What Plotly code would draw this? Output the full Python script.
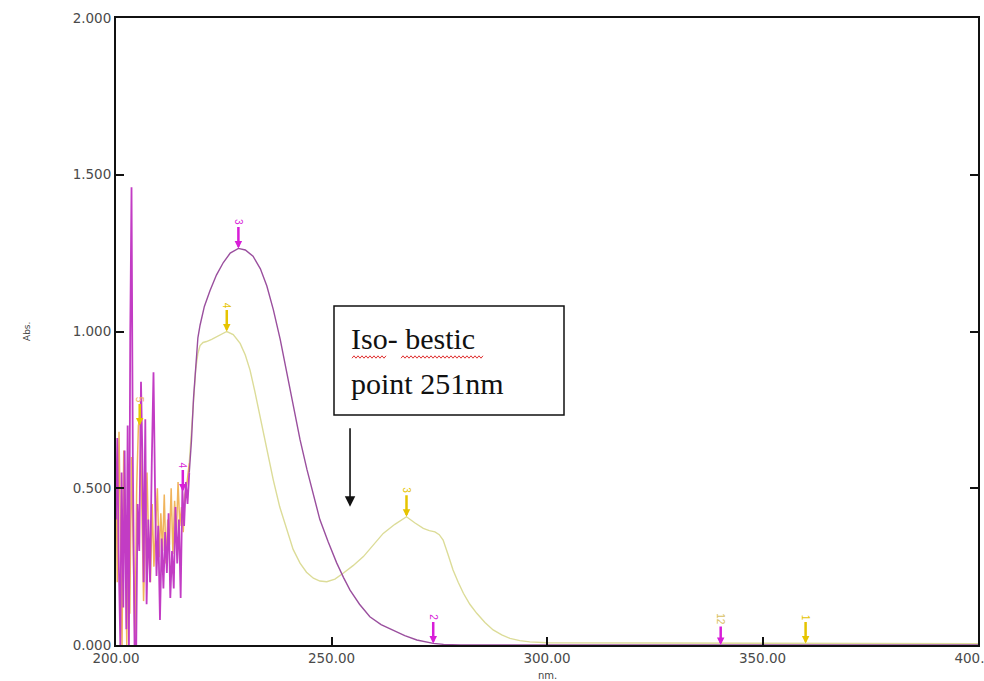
import plotly.graph_objects as go

# ---------------- data ----------------
purple_noise_nm = [200.0, 200.3, 200.6, 201.0, 201.3, 201.7, 202.0, 202.4, 202.7, 203.0, 203.3, 203.6,
                   203.9, 204.3, 204.7, 205.0, 205.4, 205.8, 206.1, 206.4, 206.8, 207.1, 207.5, 207.9,
                   208.3, 208.7, 209.1, 209.4, 209.8, 210.2, 210.6, 211.0, 211.4, 211.8, 212.2, 212.6,
                   213.0, 213.4, 213.8, 214.2, 214.6, 215.0, 215.4, 215.8, 216.2, 216.6, 217.0]
purple_noise_abs = [0.40, 0.66, 0.30, 0.00, 0.55, 0.12, 0.62, 0.05, 0.70, 0.00, 0.98, 1.46,
                    0.60, 0.00, 0.00, 0.45, 0.30, 0.84, 0.62, 0.20, 0.72, 0.13, 0.40, 0.20,
                    0.58, 0.87, 0.45, 0.22, 0.38, 0.08, 0.34, 0.18, 0.36, 0.23, 0.42, 0.15,
                    0.30, 0.18, 0.44, 0.26, 0.40, 0.15, 0.50, 0.38, 0.52, 0.45, 0.55]

yellow_noise_nm = [200.0, 200.3, 200.7, 201.0, 201.4, 201.8, 202.1, 202.5, 202.9, 203.2, 203.6, 204.0,
                   204.4, 204.8, 205.2, 205.6, 206.0, 206.4, 206.8, 207.2, 207.6, 208.0, 208.4, 208.8,
                   209.2, 209.6, 210.0, 210.4, 210.8, 211.2, 211.6, 212.0, 212.4, 212.8, 213.2, 213.6,
                   214.0, 214.4, 214.8, 215.2, 215.6, 216.0, 216.5, 217.0]
yellow_noise_abs = [0.55, 0.20, 0.68, 0.30, 0.00, 0.62, 0.42, 0.00, 0.55, 0.10, 0.60, 0.30,
                    0.00, 0.50, 0.70, 0.73, 0.40, 0.14, 0.35, 0.55, 0.30, 0.20, 0.45, 0.25,
                    0.38, 0.50, 0.28, 0.42, 0.30, 0.48, 0.26, 0.40, 0.32, 0.50, 0.29, 0.46,
                    0.35, 0.52, 0.38, 0.44, 0.36, 0.48, 0.52, 0.58]

purple_nm = [217.0, 217.5, 218.0, 218.5, 219.0, 219.5, 220.5, 221.8, 223.3, 224.9, 226.5, 228.4,
             230.0, 231.8, 233.5, 235.0, 236.5, 238.1, 239.6, 241.1, 242.7, 244.3, 245.8, 247.3,
             249.2, 251.2, 252.8, 254.3, 256.5, 258.9, 261.5, 264.3, 267.0, 269.8, 271.8, 273.6,
             276.0, 280.0, 300.0, 340.0, 400.0]
purple_abs = [0.55, 0.65, 0.79, 0.90, 0.98, 1.02, 1.08, 1.13, 1.18, 1.22, 1.25, 1.265,
              1.26, 1.24, 1.20, 1.145, 1.07, 0.975, 0.87, 0.76, 0.655, 0.56, 0.475, 0.40,
              0.33, 0.262, 0.215, 0.175, 0.13, 0.09, 0.065, 0.048, 0.03, 0.016, 0.009, 0.005,
              0.002, 0.0, 0.0, 0.0, 0.0]

yellow_nm = [217.0, 217.5, 218.0, 218.5, 219.0, 219.5, 220.2, 221.0, 222.2, 223.3, 224.5, 225.7,
             227.2, 228.8, 230.0, 231.1, 232.2, 233.4, 235.0, 236.5, 238.0, 239.6, 241.1, 242.7,
             244.2, 245.8, 247.3, 248.9, 250.8, 252.7, 255.0, 257.4, 259.7, 262.0, 264.7, 267.4,
             269.3, 271.3, 272.7, 274.0, 275.0, 275.9, 277.0, 278.2, 279.4, 280.6, 282.1, 283.7,
             285.6, 287.5, 289.5, 291.4, 293.7, 296.0, 300.0, 320.0, 340.0, 360.0, 380.0, 400.0]
yellow_abs = [0.58, 0.68, 0.80, 0.88, 0.93, 0.955, 0.965, 0.968, 0.975, 0.983, 0.993, 1.0,
              0.99, 0.962, 0.925, 0.877, 0.81, 0.728, 0.625, 0.526, 0.44, 0.367, 0.305, 0.261,
              0.232, 0.213, 0.204, 0.202, 0.21, 0.229, 0.253, 0.282, 0.318, 0.356, 0.385, 0.409,
              0.39, 0.372, 0.365, 0.361, 0.352, 0.335, 0.29, 0.239, 0.2, 0.165, 0.13, 0.101,
              0.072, 0.048, 0.032, 0.021, 0.014, 0.01, 0.007, 0.006, 0.005, 0.005, 0.004, 0.004]

purple_peak_nm = [228.4, 215.5, 273.6, 340.3]
purple_peak_abs = [1.265, 0.49, 0.005, 0.0]
purple_peak_labels = ["3", "4", "2", "12"]

yellow_peak_nm = [225.7, 267.4, 360.0, 205.5]
yellow_peak_abs = [1.0, 0.409, 0.005, 0.70]
yellow_peak_labels = ["4", "3", "1", "5"]

y_ticks = [0.0, 0.5, 1.0, 1.5, 2.0]
y_tick_labels = ["0.000", "0.500", "1.000", "1.500", "2.000"]
x_ticks = [200, 250, 300, 350, 400]
x_tick_labels = ["200.00", "250.00", "300.00", "350.00", "400.00"]

box_line1 = "Iso- bestic"
box_line2 = "point 251nm"

# ---------------- style ----------------
PURPLE = "#9a4f9e"
PURPLE_NOISE = "#c23cc4"
MAGENTA = "#d81ed8"
YELLOW = "#dcdc98"
YELLOW_NOISE = "#f0b45c"
YELLOW_MARK = "#e6c400"

L, R, T, B = 116, 6, 18, 36
W, H = 984, 681
PW, PH = W - L - R, H - T - B


def px2paper(px, py):
    return (px - L) / PW, (H - B - py) / PH


fig = go.Figure()
fig.add_trace(go.Scatter(x=yellow_noise_nm, y=yellow_noise_abs, mode="lines",
                         line=dict(color=YELLOW_NOISE, width=1.5), hoverinfo="skip"))
fig.add_trace(go.Scatter(x=purple_noise_nm, y=purple_noise_abs, mode="lines",
                         line=dict(color=PURPLE_NOISE, width=1.8), hoverinfo="skip"))
fig.add_trace(go.Scatter(x=yellow_nm, y=yellow_abs, mode="lines",
                         line=dict(color=YELLOW, width=1.4), hoverinfo="skip"))
fig.add_trace(go.Scatter(x=purple_nm, y=purple_abs, mode="lines",
                         line=dict(color=PURPLE, width=1.4), hoverinfo="skip"))

annotations = []
for xs, ys, labs, col in [(purple_peak_nm, purple_peak_abs, purple_peak_labels, MAGENTA),
                          (yellow_peak_nm, yellow_peak_abs, yellow_peak_labels, YELLOW_MARK)]:
    for x, y, t in zip(xs, ys, labs):
        c = col
        if t == "12":
            c = "#d8c060"
        if t == "5":
            c = YELLOW_NOISE
        annotations.append(dict(x=x, y=y, xref="x", yref="y", text=t, textangle=90,
                                showarrow=True, ax=0, ay=-26, arrowhead=2, arrowsize=0.6,
                                arrowwidth=2.5, arrowcolor=col, standoff=0,
                                font=dict(size=10, color=c, family="Liberation Sans")))

# iso-bestic box texts
bx, by1 = px2paper(349, 338)
_, by2 = px2paper(349, 383)
annotations.append(dict(x=bx, y=by1, xref="paper", yref="paper", xanchor="left", yanchor="middle",
                        text=box_line1, showarrow=False,
                        font=dict(family="Liberation Serif", size=30, color="#111")))
annotations.append(dict(x=bx, y=by2, xref="paper", yref="paper", xanchor="left", yanchor="middle",
                        text=box_line2, showarrow=False,
                        font=dict(family="Liberation Serif", size=30, color="#111")))
# black arrow
annotations.append(dict(x=254.3, y=0.441, xref="x", yref="y", ax=254.3, ay=0.696, axref="x", ayref="y",
                        text="", showarrow=True, arrowhead=2, arrowsize=1.3, arrowwidth=1.6,
                        arrowcolor="#111"))
# axis titles
ax_, ay_ = px2paper(20, 332)
annotations.append(dict(x=ax_, y=ay_, xref="paper", yref="paper", text="Abs.", showarrow=False,
                        textangle=-90, font=dict(size=9, color="#444", family="DejaVu Sans")))
nx_, ny_ = px2paper(547, 675)
annotations.append(dict(x=nx_, y=ny_, xref="paper", yref="paper", text="nm.", showarrow=False,
                        yanchor="middle", font=dict(size=10, color="#444", family="DejaVu Sans")))

shapes = []
x0, y0 = px2paper(334, 306)
x1, y1 = px2paper(564, 415)
shapes.append(dict(type="rect", xref="paper", yref="paper", x0=x0, y0=y1, x1=x1, y1=y0,
                   line=dict(color="#111", width=1.5), fillcolor="rgba(255,255,255,0)", layer="above"))

# red squiggle underlines
for sx, ex in [(352, 386), (401, 483)]:
    pts = []
    yb = 357
    k = 0
    xx = sx
    while xx <= ex:
        py = yb + (1.2 if k % 2 == 0 else -1.2)
        pts.append(px2paper(xx, py))
        xx += 2
        k += 1
    path = "M " + " L ".join(f"{p[0]:.5f},{p[1]:.5f}" for p in pts)
    shapes.append(dict(type="path", xref="paper", yref="paper", path=path,
                       line=dict(color="#e03030", width=1)))

tickfont = dict(size=13.5, color="#4a4a4a", family="DejaVu Sans")
fig.update_layout(
    width=W, height=H,
    margin=dict(l=L, r=R, t=T, b=B, autoexpand=False),
    paper_bgcolor="white", plot_bgcolor="white",
    showlegend=False,
    annotations=annotations,
    shapes=shapes,
    xaxis=dict(range=[200, 400], tickvals=x_ticks, ticktext=x_tick_labels,
               ticks="inside", ticklen=8, tickwidth=2, tickcolor="#111",
               showline=True, linecolor="#111", linewidth=2, mirror=True,
               showgrid=False, zeroline=False, automargin=False, ticklabeloverflow="allow",
               tickfont=tickfont),
    yaxis=dict(range=[0, 2], tickvals=y_ticks, ticktext=y_tick_labels,
               ticks="inside", ticklen=8, tickwidth=2, tickcolor="#111",
               showline=True, linecolor="#111", linewidth=2, mirror="ticks",
               showgrid=False, zeroline=False, automargin=False, ticklabeloverflow="allow",
               tickfont=tickfont),
)

fig.write_html("out.html", config={"displayModeBar": False},
               post_script="document.body.style.margin='0px';document.body.style.overflow='hidden';")
